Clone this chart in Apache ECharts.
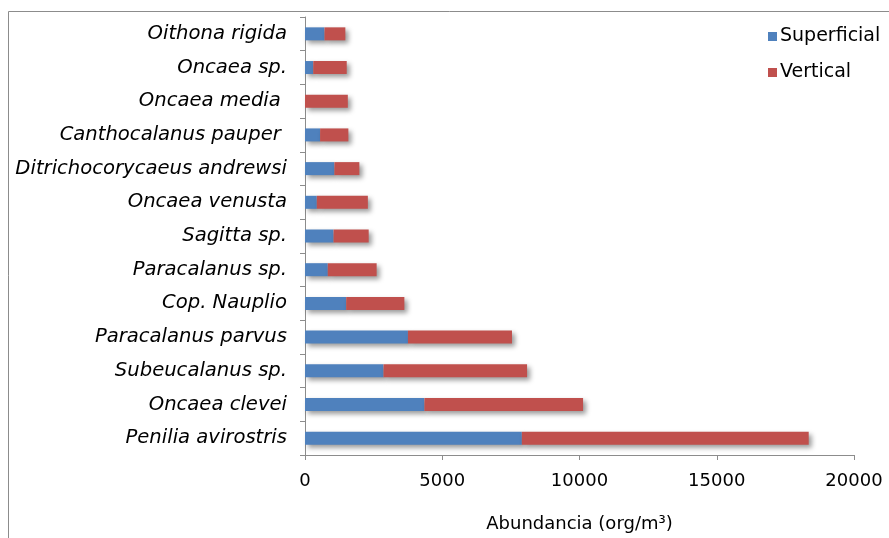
<!DOCTYPE html>
<html><head><meta charset="utf-8">
<script src="https://cdn.jsdelivr.net/npm/echarts@6/dist/echarts.min.js"></script>
<style>html,body{margin:0;padding:0;background:#fff}#c{width:889px;height:538px}</style>
</head><body><div id="c"></div>
<script>
const categories = ["Penilia avirostris","Oncaea clevei","Subeucalanus sp.","Paracalanus parvus","Cop. Nauplio","Paracalanus sp.","Sagitta sp.","Oncaea venusta","Ditrichocorycaeus andrewsi","Canthocalanus pauper ","Oncaea media ","Oncaea sp.","Oithona rigida"];
const superficial = [7900, 4350, 2860, 3750, 1500, 830, 1040, 430, 1070, 550, 0, 300, 710];
const vertical = [10450, 5780, 5230, 3790, 2120, 1780, 1280, 1860, 910, 1030, 1560, 1220, 760];
const xTicks = [0, 5000, 10000, 15000, 20000];
const seriesNames = ["Superficial", "Vertical"];
const axisTitle = "Abundancia (org/m³)";

const chart = echarts.init(document.getElementById('c'), null, {renderer:'canvas'});
const font = "DejaVu Sans";
const shadow = {shadowBlur:5, shadowOffsetX:3, shadowOffsetY:3, shadowColor:'rgba(0,0,0,0.4)'};
chart.setOption({
  animation:false,
  backgroundColor:'#fff',
  graphic:[{type:'rect', shape:{x:8.5,y:11.5,width:1000,height:1000}, style:{fill:'none', stroke:'#8c8c8c', lineWidth:1}, silent:true}],
  grid:{left:305, right:35, top:17, bottom:83, containLabel:false},
  legend:{orient:'vertical', left:763, top:22, itemWidth:9, itemHeight:9, itemGap:17, icon:'rect',
    data:seriesNames, textStyle:{fontFamily:font, fontSize:19, color:'#000', padding:[0,0,0,-2]}},
  xAxis:{type:'value', min:xTicks[0], max:xTicks[xTicks.length-1], interval:5000,
    axisLine:{show:true, lineStyle:{color:'#8c8c8c'}}, axisTick:{show:true, length:5, lineStyle:{color:'#8c8c8c'}},
    splitLine:{show:false},
    axisLabel:{fontFamily:font, fontSize:18, color:'#000', margin:17, formatter:v => String(v)},
    name:axisTitle, nameLocation:'middle', nameGap:60, nameTextStyle:{fontFamily:font, fontSize:18, color:'#000'}},
  yAxis:{type:'category', data:categories,
    axisLine:{show:true, lineStyle:{color:'#8c8c8c'}}, axisTick:{show:true, length:5, lineStyle:{color:'#8c8c8c'}},
    axisLabel:{fontFamily:font, fontSize:19.6, fontStyle:'italic', color:'#000', margin:18}},
  series:[
    {name:seriesNames[0], type:'bar', stack:'a', data:superficial, barWidth:13, itemStyle:Object.assign({color:'#4F81BD'}, shadow)},
    {name:seriesNames[1], type:'bar', stack:'a', data:vertical, barWidth:13, itemStyle:Object.assign({color:'#C0504D'}, shadow)}
  ]
});
</script></body></html>
